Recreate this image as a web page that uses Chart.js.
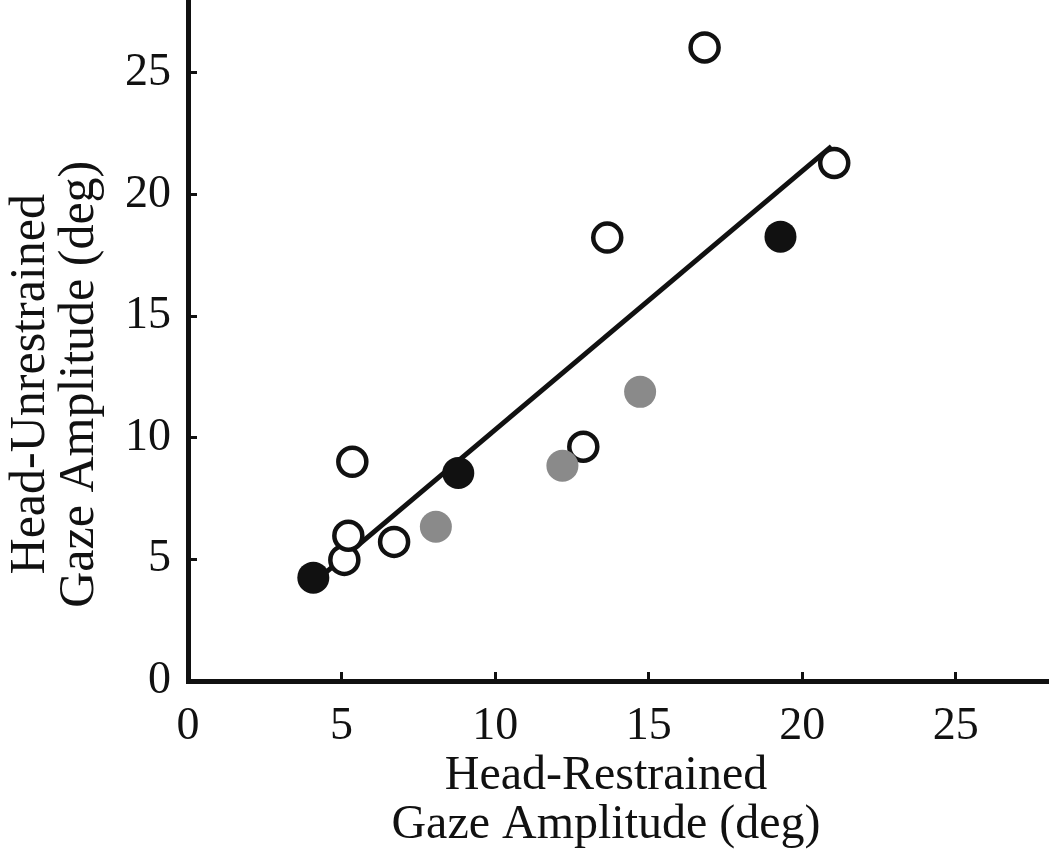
<!DOCTYPE html>
<html>
<head>
<meta charset="utf-8">
<script src="https://cdn.jsdelivr.net/npm/chart.js@4.4.0/dist/chart.umd.min.js"></script>
<style>
  html, body { margin: 0; padding: 0; background: #fff; }
</style>
</head>
<body>
<canvas id="chart" width="1050" height="856"></canvas>
<script>
// values (deg)
const openX = [5.09, 5.22, 5.35, 6.71, 12.87, 13.65, 16.82, 21.04];
const openY = [4.98, 5.97, 9.01, 5.72, 9.63, 18.23, 26.05, 21.3];
const blackX = [4.08, 8.8, 19.29];
const blackY = [4.25, 8.55, 18.27];
const grayX = [8.07, 12.19, 14.72];
const grayY = [6.34, 8.85, 11.89];
const fitX = [4.5, 20.95];
const fitY = [4.48, 21.98];

const xTicks = [0, 5, 10, 15, 20, 25];
const yTicks = [0, 5, 10, 15, 20, 25];
const xTitle = ['Head-Restrained', 'Gaze Amplitude (deg)'];
const yTitle = ['Head-Unrestrained', 'Gaze Amplitude (deg)'];

const pts = (xs, ys) => xs.map((x, i) => ({ x: x, y: ys[i] }));
const serif = '"Liberation Serif", "Times New Roman", serif';

// no extra room for end labels, the plot runs to the canvas edges
const noPad = (s) => { s.paddingTop = 0; s.paddingBottom = 0; s.paddingLeft = 0; s.paddingRight = 0; };

const ctx = document.getElementById('chart').getContext('2d');
new Chart(ctx, {
  type: 'scatter',
  data: {
    datasets: [
      {
        label: 'fit',
        type: 'line',
        data: pts(fitX, fitY),
        borderColor: '#111',
        borderWidth: 5,
        pointRadius: 0,
        fill: false,
        order: 4,
      },
      {
        label: 'open',
        data: pts(openX, openY),
        pointRadius: 14,
        pointBorderWidth: 4.5,
        pointBorderColor: '#111',
        pointBackgroundColor: '#fff',
        order: 3,
      },
      {
        label: 'gray',
        data: pts(grayX, grayY),
        pointRadius: 16,
        pointBorderWidth: 0,
        pointBackgroundColor: '#8a8a8a',
        order: 2,
      },
      {
        label: 'filled',
        data: pts(blackX, blackY),
        pointRadius: 16,
        pointBorderWidth: 0,
        pointBackgroundColor: '#111',
        order: 1,
      },
    ],
  },
  options: {
    responsive: false,
    animation: false,
    layout: { autoPadding: false, padding: { left: 0, right: 2, top: 0, bottom: 0 } },
    plugins: {
      legend: { display: false },
      tooltip: { enabled: false },
    },
    scales: {
      x: {
        type: 'linear',
        min: 0,
        max: 28,
        afterBuildTicks: (s) => { s.ticks = xTicks.map(v => ({ value: v })); },
        afterFit: (s) => { s.height = 175; noPad(s); },
        border: { display: true, color: '#111', width: 5 },
        grid: { drawOnChartArea: false, drawTicks: true, tickLength: -9, tickWidth: 3, tickColor: '#111' },
        ticks: { color: '#111', padding: 27, font: { family: serif, size: 46 } },
        title: {
          display: true,
          // two trailing spaces nudge the title slightly left of centre
          text: xTitle.map(t => t + '  '),
          color: '#111',
          font: { family: serif, size: 48, lineHeight: 1.02 },
          padding: { top: 0, bottom: 6 },
        },
      },
      y: {
        type: 'linear',
        min: 0,
        max: 28,
        afterBuildTicks: (s) => { s.ticks = yTicks.map(v => ({ value: v })); },
        afterFit: (s) => { s.width = 188; noPad(s); },
        border: { display: true, color: '#111', width: 5 },
        grid: { drawOnChartArea: false, drawTicks: true, tickLength: -9, tickWidth: 3, tickColor: '#111' },
        ticks: { color: '#111', padding: 26, font: { family: serif, size: 46 } },
        title: {
          display: true,
          // trailing spaces push the rotated title a little lower, as in the figure
          text: yTitle.map(t => t + '       '),
          color: '#111',
          font: { family: serif, size: 50, lineHeight: 0.98 },
          padding: { top: 6, bottom: 0 },
        },
      },
    },
  },
});
</script>
</body>
</html>
